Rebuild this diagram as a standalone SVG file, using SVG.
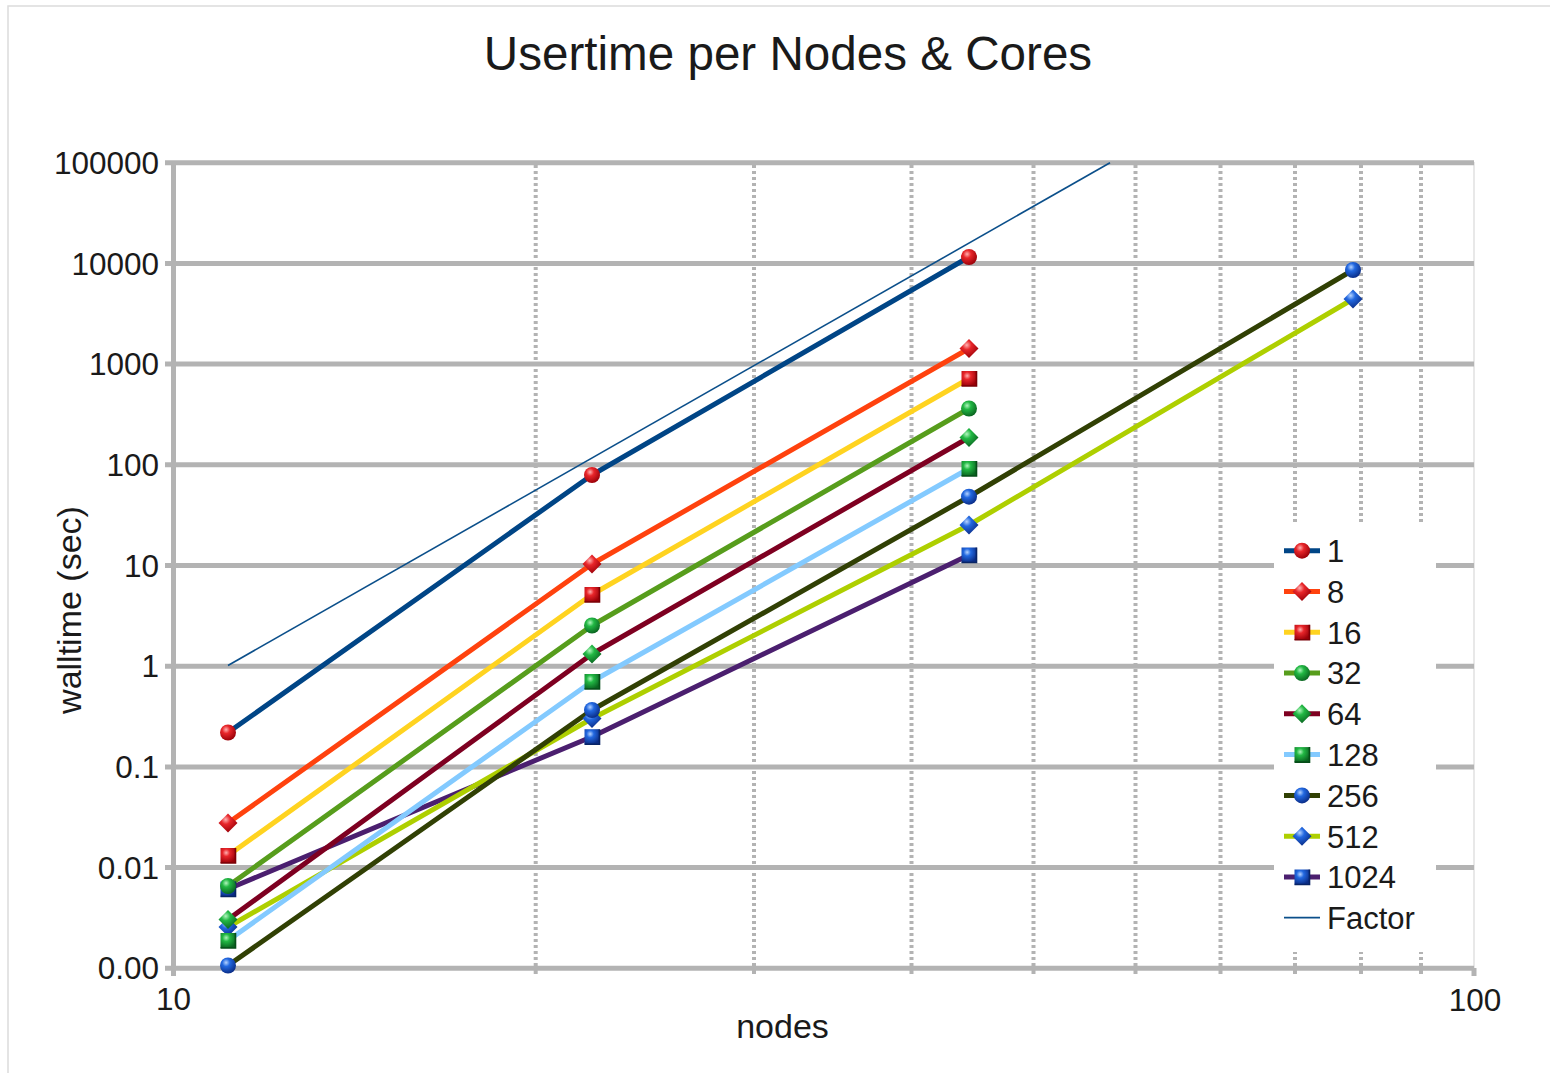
<svg xmlns="http://www.w3.org/2000/svg" width="1550" height="1073" viewBox="0 0 1550 1073">
<style>
.grid{stroke:#b3b3b3;stroke-width:5;fill:none}
.minor{stroke:#b3b3b3;stroke-width:4;stroke-dasharray:3 3;fill:none}
.tick{font-family:"Liberation Sans",Arial,sans-serif;font-size:31.5px;fill:#1a1a1a}
.title{font-family:"Liberation Sans",Arial,sans-serif;font-size:47.6px;fill:#1a1a1a}
.axt{font-family:"Liberation Sans",Arial,sans-serif;font-size:34px;fill:#1a1a1a}
.leg{font-family:"Liberation Sans",Arial,sans-serif;font-size:31px;fill:#1a1a1a}
.ser{fill:none;stroke-width:5;stroke-linejoin:round;stroke-linecap:butt}
</style>
<defs>
<radialGradient id="gRed" cx="0.38" cy="0.32" r="0.7">
<stop offset="0" stop-color="#ffb0b0"/><stop offset="0.35" stop-color="#e8262a"/><stop offset="1" stop-color="#9a0008"/>
</radialGradient>
<radialGradient id="gGreen" cx="0.38" cy="0.32" r="0.7">
<stop offset="0" stop-color="#b0f5bd"/><stop offset="0.35" stop-color="#22b844"/><stop offset="1" stop-color="#0a6420"/>
</radialGradient>
<radialGradient id="gBlue" cx="0.38" cy="0.32" r="0.7">
<stop offset="0" stop-color="#b5d3ff"/><stop offset="0.35" stop-color="#2268e0"/><stop offset="1" stop-color="#0a2c86"/>
</radialGradient>
<g id="mRedC"><circle r="8" fill="url(#gRed)"/></g>
<g id="mRedD"><path d="M0,-9.5 L9.5,0 L0,9.5 L-9.5,0Z" fill="url(#gRed)"/></g>
<g id="mRedS"><rect x="-7.5" y="-7.5" width="15" height="15" fill="url(#gRed)"/><path d="M7.5,-7.5 V7.5 H-7.5" fill="none" stroke="#7a0006" stroke-width="1.6"/></g>
<g id="mGreenC"><circle r="8" fill="url(#gGreen)"/></g>
<g id="mGreenD"><path d="M0,-9.5 L9.5,0 L0,9.5 L-9.5,0Z" fill="url(#gGreen)"/></g>
<g id="mGreenS"><rect x="-7.5" y="-7.5" width="15" height="15" fill="url(#gGreen)"/><path d="M7.5,-7.5 V7.5 H-7.5" fill="none" stroke="#064d18" stroke-width="1.6"/></g>
<g id="mBlueC"><circle r="8" fill="url(#gBlue)"/></g>
<g id="mBlueD"><path d="M0,-9.5 L9.5,0 L0,9.5 L-9.5,0Z" fill="url(#gBlue)"/></g>
<g id="mBlueS"><rect x="-7.5" y="-7.5" width="15" height="15" fill="url(#gBlue)"/><path d="M7.5,-7.5 V7.5 H-7.5" fill="none" stroke="#082466" stroke-width="1.6"/></g>
</defs>
<rect x="0" y="0" width="1550" height="1073" fill="#ffffff"/>
<path d="M8,1080 V6 H1560" fill="none" stroke="#dcdcdc" stroke-width="1.5"/>
<text class="title" x="788" y="70" text-anchor="middle">Usertime per Nodes &amp; Cores</text>
<g id="plot-grid">
<line x1="1474" y1="162" x2="1474" y2="968" stroke="#e0e0e0" stroke-width="1.5"/>
<g class="minor">
<line x1="535.7" y1="165" x2="535.7" y2="968"/>
<line x1="754" y1="165" x2="754" y2="968"/>
<line x1="911.5" y1="165" x2="911.5" y2="968"/>
<line x1="1033.5" y1="165" x2="1033.5" y2="968"/>
<line x1="1135.5" y1="165" x2="1135.5" y2="968"/>
<line x1="1220.5" y1="165" x2="1220.5" y2="968"/>
<line x1="1295" y1="165" x2="1295" y2="968"/>
<line x1="1361" y1="165" x2="1361" y2="968"/>
<line x1="1421" y1="165" x2="1421" y2="968"/>
</g>
<g stroke="#b3b3b3" stroke-width="4">
<line x1="535.7" y1="968" x2="535.7" y2="974"/>
<line x1="754" y1="968" x2="754" y2="974"/>
<line x1="911.5" y1="968" x2="911.5" y2="974"/>
<line x1="1033.5" y1="968" x2="1033.5" y2="974"/>
<line x1="1135.5" y1="968" x2="1135.5" y2="974"/>
<line x1="1220.5" y1="968" x2="1220.5" y2="974"/>
<line x1="1295" y1="968" x2="1295" y2="974"/>
<line x1="1361" y1="968" x2="1361" y2="974"/>
<line x1="1421" y1="968" x2="1421" y2="974"/>
<line x1="1474" y1="968" x2="1474" y2="976" stroke-width="5"/>
</g>
<g class="grid">
<line x1="165" y1="162.7" x2="1474" y2="162.7"/>
<line x1="165" y1="263.4" x2="1474" y2="263.4"/>
<line x1="165" y1="364.1" x2="1474" y2="364.1"/>
<line x1="165" y1="464.8" x2="1474" y2="464.8"/>
<line x1="165" y1="565.5" x2="1474" y2="565.5"/>
<line x1="165" y1="666.2" x2="1474" y2="666.2"/>
<line x1="165" y1="766.9" x2="1474" y2="766.9"/>
<line x1="165" y1="867.6" x2="1474" y2="867.6"/>
<line x1="165" y1="968.3" x2="1474" y2="968.3"/>
<line x1="173.5" y1="163" x2="173.5" y2="976"/>
</g>
</g>
<g id="y-labels" class="tick" text-anchor="end">
<text x="159" y="174">100000</text>
<text x="159" y="274.5">10000</text>
<text x="159" y="375">1000</text>
<text x="159" y="476">100</text>
<text x="159" y="576.5">10</text>
<text x="159" y="677">1</text>
<text x="159" y="778">0.1</text>
<text x="159" y="878.5">0.01</text>
<text x="159" y="979">0.00</text>
</g>
<g id="x-labels" class="tick" text-anchor="middle">
<text x="173.5" y="1010">10</text>
<text x="1475" y="1011">100</text>
</g>
<text class="axt" x="782.5" y="1038" text-anchor="middle">nodes</text>
<text class="axt" transform="translate(81,610) rotate(-90)" text-anchor="middle">walltime (sec)</text>
<g id="connectors">
<polyline id="line-1024" class="ser" stroke="#4b1f6f" points="228,889 592,736.7 969,555"/>
<polyline id="line-512" class="ser" stroke="#aecf00" points="228,927 592,718.5 969,525 1353,299"/>
<polyline id="line-256" class="ser" stroke="#314004" points="228,965.5 592,710 969,496.7 1353,270"/>
<polyline id="line-128" class="ser" stroke="#83caff" points="228,940.5 592,681.5 969,468.5"/>
<polyline id="line-64" class="ser" stroke="#7e0021" points="228,919.5 592,654 969,437.5"/>
<polyline id="line-32" class="ser" stroke="#579d1c" points="228,886 592,625.5 969,408.5"/>
<polyline id="line-16" class="ser" stroke="#ffd320" points="228,855.5 592,594.5 969,378.5"/>
<polyline id="line-8" class="ser" stroke="#ff420e" points="228,823 592,564 969,348.5"/>
<polyline id="line-1" class="ser" stroke="#004586" points="228,732.5 592,475 969,257"/>
<line id="line-factor" x1="228" y1="665.5" x2="1110" y2="162.7" stroke="#0b4f8a" stroke-width="1.6"/>
</g>
<g id="markers-1024"><use href="#mBlueS" x="228" y="889"/><use href="#mBlueS" x="592" y="736.7"/><use href="#mBlueS" x="969" y="555"/></g>
<g id="markers-512"><use href="#mBlueD" x="228" y="927"/><use href="#mBlueD" x="592" y="718.5"/><use href="#mBlueD" x="969" y="525"/><use href="#mBlueD" x="1353" y="299"/></g>
<g id="markers-256"><use href="#mBlueC" x="228" y="965.5"/><use href="#mBlueC" x="592" y="710"/><use href="#mBlueC" x="969" y="496.7"/><use href="#mBlueC" x="1353" y="270"/></g>
<g id="markers-128"><use href="#mGreenS" x="228" y="940.5"/><use href="#mGreenS" x="592" y="681.5"/><use href="#mGreenS" x="969" y="468.5"/></g>
<g id="markers-64"><use href="#mGreenD" x="228" y="919.5"/><use href="#mGreenD" x="592" y="654"/><use href="#mGreenD" x="969" y="437.5"/></g>
<g id="markers-32"><use href="#mGreenC" x="228" y="886"/><use href="#mGreenC" x="592" y="625.5"/><use href="#mGreenC" x="969" y="408.5"/></g>
<g id="markers-16"><use href="#mRedS" x="228" y="855.5"/><use href="#mRedS" x="592" y="594.5"/><use href="#mRedS" x="969" y="378.5"/></g>
<g id="markers-8"><use href="#mRedD" x="228" y="823"/><use href="#mRedD" x="592" y="564"/><use href="#mRedD" x="969" y="348.5"/></g>
<g id="markers-1"><use href="#mRedC" x="228" y="732.5"/><use href="#mRedC" x="592" y="475"/><use href="#mRedC" x="969" y="257"/></g>
<g id="legend">
<rect x="1274" y="524" width="162" height="428" fill="#ffffff"/>
<g id="leg-1"><line x1="1284" y1="550.7" x2="1320" y2="550.7" stroke="#004586" stroke-width="5"/><use href="#mRedC" x="1302" y="550.7"/><text class="leg" x="1327" y="562">1</text></g>
<g id="leg-8"><line x1="1284" y1="591.5" x2="1320" y2="591.5" stroke="#ff420e" stroke-width="5"/><use href="#mRedD" x="1302" y="591.5"/><text class="leg" x="1327" y="602.8">8</text></g>
<g id="leg-16"><line x1="1284" y1="632.3" x2="1320" y2="632.3" stroke="#ffd320" stroke-width="5"/><use href="#mRedS" x="1302" y="632.3"/><text class="leg" x="1327" y="643.6">16</text></g>
<g id="leg-32"><line x1="1284" y1="673.1" x2="1320" y2="673.1" stroke="#579d1c" stroke-width="5"/><use href="#mGreenC" x="1302" y="673.1"/><text class="leg" x="1327" y="684.4">32</text></g>
<g id="leg-64"><line x1="1284" y1="713.8" x2="1320" y2="713.8" stroke="#7e0021" stroke-width="5"/><use href="#mGreenD" x="1302" y="713.8"/><text class="leg" x="1327" y="725.1">64</text></g>
<g id="leg-128"><line x1="1284" y1="754.6" x2="1320" y2="754.6" stroke="#83caff" stroke-width="5"/><use href="#mGreenS" x="1302" y="754.6"/><text class="leg" x="1327" y="765.9">128</text></g>
<g id="leg-256"><line x1="1284" y1="795.4" x2="1320" y2="795.4" stroke="#314004" stroke-width="5"/><use href="#mBlueC" x="1302" y="795.4"/><text class="leg" x="1327" y="806.7">256</text></g>
<g id="leg-512"><line x1="1284" y1="836.2" x2="1320" y2="836.2" stroke="#aecf00" stroke-width="5"/><use href="#mBlueD" x="1302" y="836.2"/><text class="leg" x="1327" y="847.5">512</text></g>
<g id="leg-1024"><line x1="1284" y1="877" x2="1320" y2="877" stroke="#4b1f6f" stroke-width="5"/><use href="#mBlueS" x="1302" y="877"/><text class="leg" x="1327" y="888.3">1024</text></g>
<g id="leg-factor"><line x1="1284" y1="917.7" x2="1320" y2="917.7" stroke="#0b4f8a" stroke-width="1.8"/><text class="leg" x="1327" y="929">Factor</text></g>
</g>
</svg>
